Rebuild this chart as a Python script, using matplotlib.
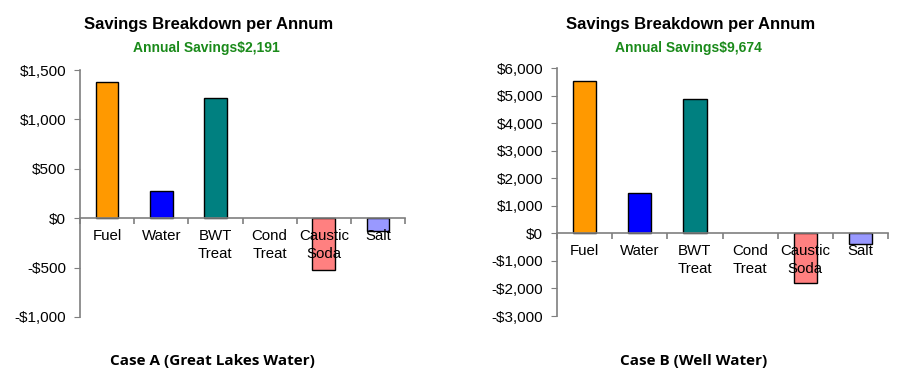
"""
Savings breakdown per annum, two cases side by side.
"""

import matplotlib as mpl

mpl.use("Agg")
import matplotlib.pyplot as plt
from matplotlib.ticker import FixedLocator, FuncFormatter, MultipleLocator

CATEGORIES = ["Fuel", "Water", "BWT\nTreat", "Cond\nTreat", "Caustic\nSoda", "Salt"]
CASE_A = [1380, 275, 1215, 0, -520, -130]
CASE_B = [5535, 1480, 4873, 0, -1805, -385]
TOTAL_A = 2191
TOTAL_B = 9674

COLORS = ["#FF9900", "#0000FF", "#008080", "#808080", "#FF8080", "#9999FF"]
AXIS = "#7f7f7f"
GREEN = "#1a8a1a"

plt.rcParams["font.family"] = ["Liberation Sans", "DejaVu Sans"]


def money(v, _pos=None):
    v = int(round(v))
    return f"-${abs(v):,}" if v < 0 else f"${v:,}"


def panel(fig, rect, values, ylim, step, total, case_label, cx):
    ax = fig.add_axes(rect)
    x = range(len(CATEGORIES))
    widths = [0.0 if v == 0 else 1.0 for v in values]
    ax.bar(x, values, width=0.42, color=COLORS, edgecolor="black",
           linewidth=widths, zorder=1)
    ax.set_xlim(-0.5, len(CATEGORIES) - 0.5)
    ax.set_ylim(*ylim)

    for side in ("top", "right"):
        ax.spines[side].set_visible(False)
    ax.spines["bottom"].set_position(("data", 0))
    for side in ("left", "bottom"):
        ax.spines[side].set_color(AXIS)
        ax.spines[side].set_linewidth(1.2)

    ax.yaxis.set_major_locator(MultipleLocator(step))
    ax.yaxis.set_major_formatter(FuncFormatter(money))
    ax.tick_params(axis="y", direction="out", length=4, color=AXIS,
                   labelsize=11, pad=6)

    ax.set_xticks(list(x))
    ax.set_xticklabels(CATEGORIES, fontsize=10.8, linespacing=1.3)
    ax.tick_params(axis="x", which="major", length=0, pad=8)
    ax.xaxis.set_minor_locator(FixedLocator([i + 0.5 for i in range(-1, len(CATEGORIES))]))
    ax.tick_params(axis="x", which="minor", direction="out", length=4,
                   color=AXIS, width=1.2)

    fig.text(cx / 900, 1 - 24 / 383, "Savings Breakdown per Annum", ha="center",
             va="center", fontsize=12, fontweight="bold")
    fig.text((cx - 3) / 900, 1 - 48 / 383, f"Annual Savings${total:,}", ha="center",
             va="center", fontsize=10, fontweight="bold", color=GREEN)
    fig.text((cx + 3) / 900, 1 - 361 / 383, case_label, ha="center", va="center",
             fontsize=11, fontweight="bold", family="Open Sans")
    return ax


fig = plt.figure(figsize=(9, 3.83), dpi=100)
fig.patch.set_facecolor("white")
panel(fig, [80 / 900, 66 / 383, 325 / 900, 247 / 383], CASE_A,
      (-1000, 1500), 500, TOTAL_A, "Case A (Great Lakes Water)", 209)
panel(fig, [557 / 900, 67 / 383, 331 / 900, 248 / 383], CASE_B,
      (-3000, 6000), 1000, TOTAL_B, "Case B (Well Water)", 691)
fig.savefig("out.png", dpi=100, facecolor="white")
